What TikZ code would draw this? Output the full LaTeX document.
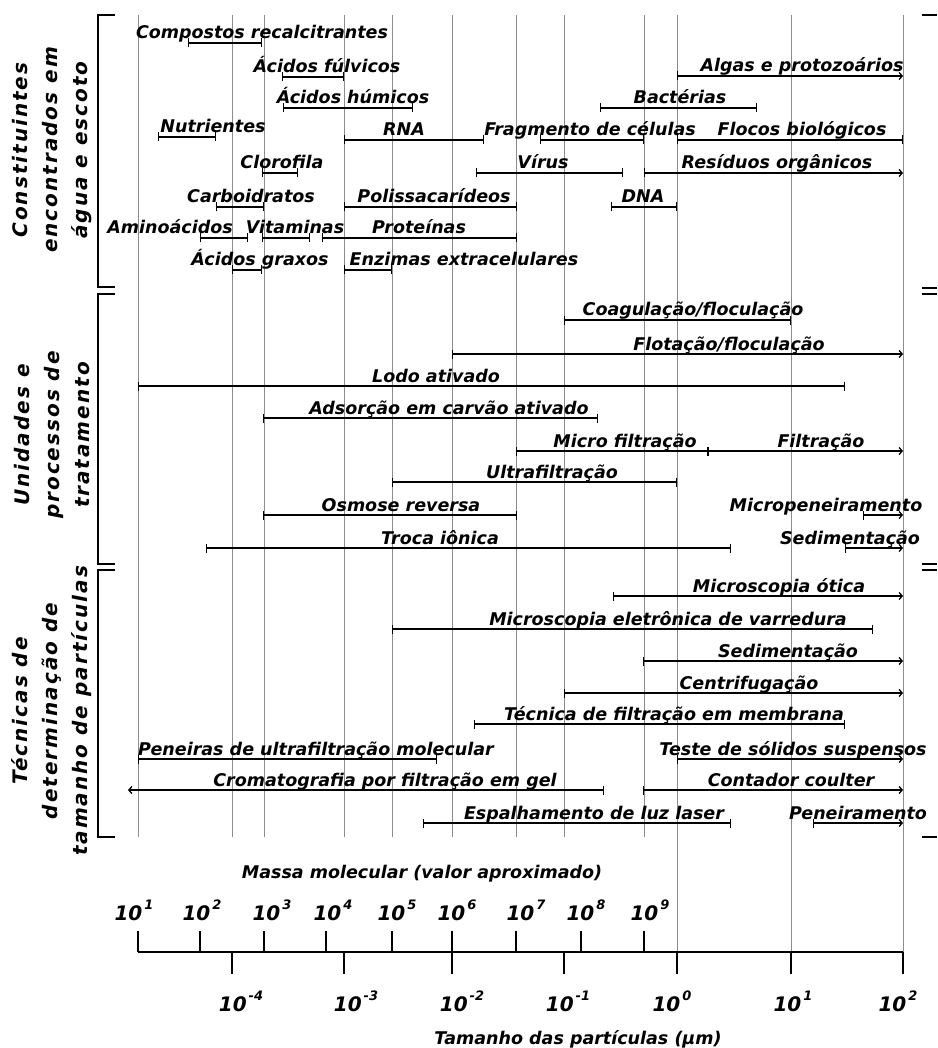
\documentclass[tikz,border=0pt]{standalone}
\usepackage{fontspec}
\setmainfont{DejaVu Sans}
\newfontfamily\sidefam{DejaVu Sans}[LetterSpace=10]
\usetikzlibrary{arrows.meta}

\newcommand\lblfont{\fontsize{17.5}{20}\selectfont\bfseries\itshape}
\newcommand\pw[1]{10\hspace{2pt}\raisebox{11pt}{\fontsize{13}{13}\selectfont #1}}

\tikzset{
  gline/.style={black!45, line width=0.9pt},
  rng/.style={line width=1.3pt, {Bar[width=9pt]}-{Bar[width=9pt]}},
  rngr/.style={line width=1.3pt, {Bar[width=9pt]}-{Straight Barb[length=3pt,width=7pt]}},
  rngl/.style={line width=1.3pt, {Straight Barb[length=3pt,width=7pt]}-{Bar[width=9pt]}},
  lbl/.style={font=\lblfont, anchor=base, inner sep=0pt},
  side/.style={font=\sidefam\fontsize{20}{30}\selectfont\bfseries\itshape,
    rotate=90, align=center, inner sep=0pt},
  brk/.style={line width=1.3pt},
  tick/.style={line width=1.2pt},
  num/.style={font=\fontsize{20}{20}\selectfont\bfseries\itshape, anchor=base, inner sep=0pt}
}

\begin{document}
\begin{tikzpicture}[x=1pt, y=-1pt]
    \useasboundingbox (0,0) rectangle (937,1048);

    % grid lines
    \foreach \x in {138,232,264,344,392,452,516,564,644}
        \draw[gline] (\x,15) -- (\x,837);
    \foreach \x in {677,791,903}
        \draw[gline] (\x,15) -- (\x,952);

    % brackets, left and right
    \draw[brk] (115,15) -| (98,287) -- (115,287);
    \draw[brk] (115,294) -| (98,564) -- (115,564);
    \draw[brk] (115,570) -| (98,837) -- (115,837);
    \foreach \y in {15,288,294,564,570,837}
        \draw[brk] (922,\y) -- (937,\y);

    % group titles
    \node[side] (g1) at (52,150) {Constituintes\\encontrados em\\água e escoto};
    \node[side] (g2) at (52,435) {Unidades e\\processos de\\tratamento};
    \node[side] (g3) at (52,711) {Técnicas de\\determinação de\\tamanho de partículas};

    % ranges with a bar at both ends: name/from/to/y/label x/label
    \foreach \n/\xa/\xb/\yy/\xt/\txt in {
        cr/188/262/43/262/Compostos recalcitrantes,
        af/282/344/77/327/Ácidos fúlvicos,
        ah/283/413/108/353/Ácidos húmicos,
        ba/600/757/108/680/Bactérias,
        nu/158/216/137/213/Nutrientes,
        rna/344/484/140/404/RNA,
        fc/540/644/140/590/Fragmento de células,
        fb/677/903/140/802/Flocos biológicos,
        cl/262/298/173/282/Clorofila,
        vi/476/623/173/543/Vírus,
        ca/216/264/207/251/Carboidratos,
        po/344/517/207/434/Polissacarídeos,
        dna/611/677/207/643/DNA,
        am/200/248/238/170/Aminoácidos,
        vt/262/310/238/295/Vitaminas,
        pr/322/517/238/419/Proteínas,
        ag/232/262/270/260/Ácidos graxos,
        en/344/392/270/464/Enzimas extracelulares,
        cf/564/791/320/693/{Coagulação/floculação},
        la/138/845/386/436/Lodo ativado,
        ad/263/598/418/449/Adsorção em carvão ativado,
        mf/516/708/451/625/Micro filtração,
        uf/392/677/482/552/Ultrafiltração,
        or/263/517/515/401/Osmose reversa,
        ti/206/731/548/440/Troca iônica,
        me/392/873/629/668/Microscopia eletrônica de varredura,
        tf/474/845/724/674/Técnica de filtração em membrana,
        pu/138/437/759/316/Peneiras de ultrafiltração molecular,
        el/423/731/823/594/Espalhamento de luz laser} {
        \coordinate (a\n) at (\xa,\yy);
        \coordinate (b\n) at (\xb,\yy);
        \draw[rng] (a\n) -- (b\n);
        \node[lbl] (t\n) at (\xt,\yy-4) {\txt};
    }

    % ranges open to the right
    \foreach \n/\xa/\xb/\yy/\xt/\txt in {
        al/677/903/76/802/Algas e protozoários,
        ro/644/903/173/777/Resíduos orgânicos,
        ff/452/903/354/729/{Flotação/floculação},
        fi/708/903/451/821/Filtração,
        mp/863/903/515/826/Micropeneiramento,
        se/845/903/548/850/Sedimentação,
        mo/613/903/596/779/Microscopia ótica,
        sd/643/903/661/788/Sedimentação,
        ce/564/903/693/749/Centrifugação,
        ts/677/903/759/793/Teste de sólidos suspensos,
        cc/643/903/790/791/Contador coulter,
        pe/813/903/823/858/Peneiramento} {
        \coordinate (a\n) at (\xa,\yy);
        \coordinate (b\n) at (\xb,\yy);
        \draw[rngr] (a\n) -- (b\n);
        \node[lbl] (t\n) at (\xt,\yy-4) {\txt};
    }

    % range open to the left
    \coordinate (acg) at (128,790);
    \coordinate (bcg) at (604,790);
    \draw[rngl] (acg) -- (bcg);
    \node[lbl] (tcg) at (385,786) {Cromatografia por filtração em gel};

    % scales
    \draw[tick] (138,952) -- (903,952);
    \foreach \x in {138,200,264,326,392,452,516,581,644}
        \draw[tick] (\x,931) -- (\x,952);
    \foreach \x in {232,344,452,564,677,791,903}
        \draw[tick] (\x,952) -- (\x,974);

    \node[lbl] (mm) at (422,878) {Massa molecular (valor aproximado)};
    \foreach \x/\e in {134/1,202/2,272/3,333/4,397/5,457/6,526/7,586/8,650/9}
        \node[num] (m\e) at (\x,920) {\pw{\e}};

    \foreach \x/\e/\k in {241/-4/a,356/-3/b,462/-2/c,568/-1/d,672/0/e,793/1/f,898/2/g}
        \node[num] (s\k) at (\x,1011) {\pw{\e}};
    \node[lbl] (ts) at (578,1044) {Tamanho das partículas (μm)};
\end{tikzpicture}
\end{document}
